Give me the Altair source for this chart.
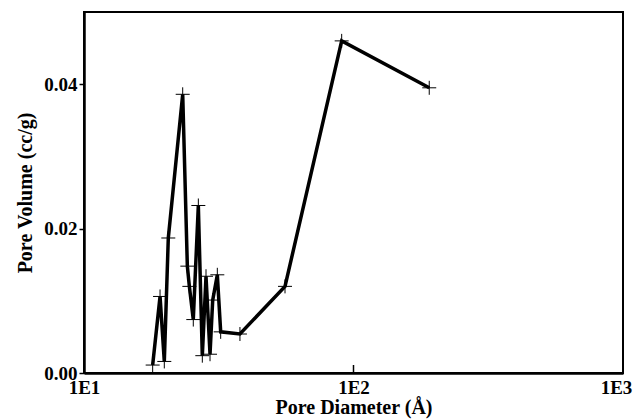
import altair as alt
import pandas as pd

diameter = [17.98, 19.15, 19.86, 20.55, 23.24, 24.18, 24.6, 25.44, 26.56, 27.48,
            28.36, 29.35, 30.03, 31.24, 32.15, 37.9, 55.7, 90.4, 191.0]
volume = [0.0011, 0.0106, 0.0016, 0.0187, 0.0386, 0.0148, 0.0120, 0.0074, 0.0232, 0.0024,
          0.0134, 0.0026, 0.0101, 0.0136, 0.0057, 0.0054, 0.0120, 0.0460, 0.0395]
x_ticks = [10, 100, 1000]
y_ticks = [0.0, 0.02, 0.04]

df = pd.DataFrame({"d": diameter, "v": volume, "i": list(range(len(diameter)))})

FONT = "Liberation Serif"
W, H = 539, 361

xs = alt.X("d:Q", scale=alt.Scale(type="log", domain=[10, 1000], nice=False),
           axis=alt.Axis(values=x_ticks, labelExpr="'1E' + round(log(datum.value)/LN10)",
                         title="Pore Diameter (Å)", tickSize=0, grid=False, labelFlush=False,
                         labelOffset={"condition": {"test": "datum.value >= 1000", "value": -7},
                                      "value": 0},
                         labelPadding=5, titlePadding=0))
ys = alt.Y("v:Q", scale=alt.Scale(domain=[0, 0.05], nice=False),
           axis=alt.Axis(values=y_ticks, format=".2f", title="Pore Volume (cc/g)",
                         tickSize=5, grid=False, labelPadding=2, titlePadding=8))

line = alt.Chart(df).mark_line(color="black", strokeWidth=3.5).encode(x=xs, y=ys, order="i:Q")
pts = alt.Chart(df).mark_point(shape="M-1,0H1M0,-1V1", size=196, filled=False,
                               color="black", strokeWidth=1, opacity=1).encode(x=xs, y=ys)
tick = alt.Chart(pd.DataFrame({"t": [100]})).mark_rule(color="black", strokeWidth=1.5).encode(
    x=alt.X("t:Q", scale=alt.Scale(type="log", domain=[10, 1000], nice=False)),
    y=alt.value(H), y2=alt.value(H - 8))

chart = alt.layer(line, pts, tick).properties(
    width=W, height=H,
    autosize=alt.AutoSizeParams(type="none"),
    padding={"left": 76, "top": 4, "right": 10, "bottom": 46},
    background="white",
).configure_view(stroke="black", strokeWidth=2).configure_axis(
    labelFont=FONT, titleFont=FONT, labelFontSize=19, titleFontSize=20,
    labelFontWeight="bold", titleFontWeight="bold", labelColor="black", titleColor="black",
    domainColor="black", domainWidth=2.5, tickColor="black", tickWidth=1.5,
)

chart.save("out.html", embed_options={"renderer": "svg", "actions": False})
